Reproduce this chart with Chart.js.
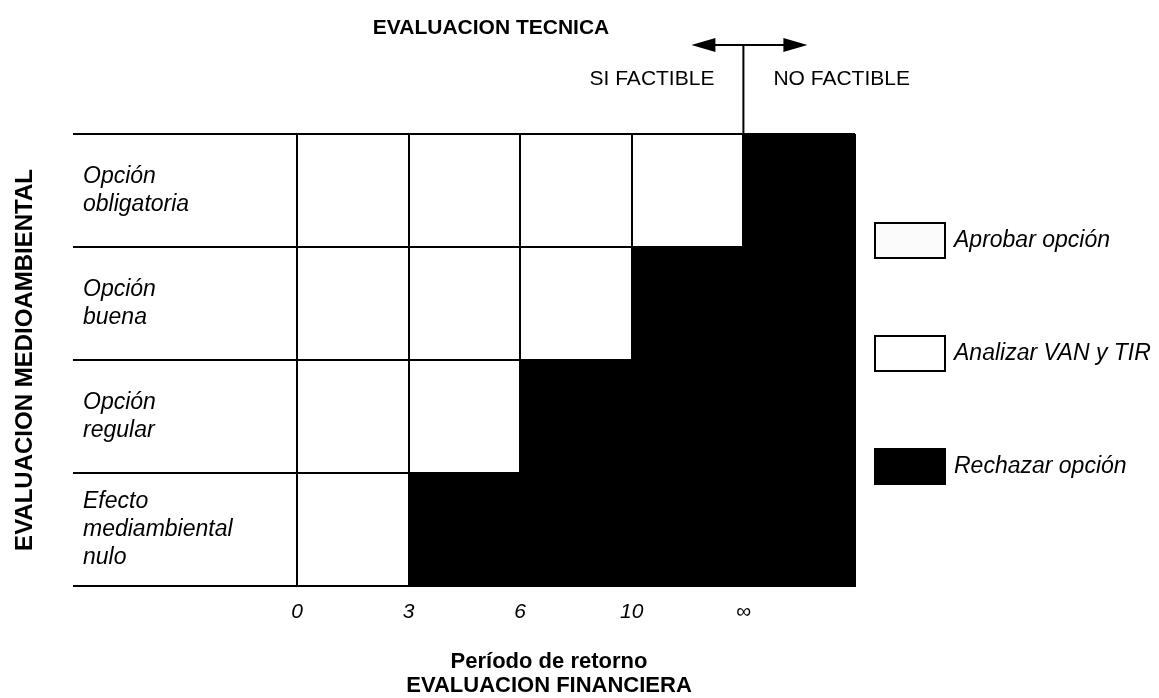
<!DOCTYPE html>
<html lang="es">
<head>
<meta charset="utf-8">
<title>Evaluación de opciones</title>
<script src="https://cdn.jsdelivr.net/npm/chart.js@4.4.1/dist/chart.umd.min.js"></script>
<style>
    html, body { margin: 0; padding: 0; background: #fff; }
    #wrap { width: 1159px; height: 698px; position: relative; }
</style>
</head>
<body>
<div id="wrap"><canvas id="matriz"></canvas></div>
<script>
// filas: evaluación medioambiental (de arriba a abajo)
const filas = [
    ['Opción', 'obligatoria'],
    ['Opción', 'buena'],
    ['Opción', 'regular'],
    ['Efecto', 'mediambiental', 'nulo']
];
// columnas: período de retorno
const periodos = ['0', '3', '6', '10', '∞'];
const numColumnas = 5;

// casillas por fila
const aprobarOpcion = [0, 0, 0, 0];
const analizarVanTir = [4, 3, 2, 1];
const rechazarOpcion = [1, 2, 3, 4];

const FONT = '"Liberation Sans", Arial, Helvetica, sans-serif';
const INK = '#000';

const anotaciones = {
    id: 'anotaciones',
    afterDraw(chart) {
        const { ctx, chartArea, scales: { x } } = chart;
        const xLim = x.getPixelForValue(4);
        ctx.save();
        ctx.fillStyle = INK;
        ctx.strokeStyle = INK;
        ctx.textBaseline = 'middle';

        // evaluación técnica
        ctx.font = 'bold 21px ' + FONT;
        ctx.textAlign = 'center';
        ctx.fillText('EVALUACION TECNICA', 491, 28);

        ctx.font = '21px ' + FONT;
        ctx.textAlign = 'right';
        ctx.fillText('SI FACTIBLE', xLim - 29, 79);
        ctx.textAlign = 'left';
        ctx.fillText('NO FACTIBLE', xLim + 30, 79);

        // flecha doble y separador
        const yA = 45, xL = xLim - 52, xR = xLim + 64;
        ctx.lineWidth = 2;
        ctx.beginPath();
        ctx.moveTo(xL + 10, yA); ctx.lineTo(xR - 10, yA);
        ctx.moveTo(xLim, yA); ctx.lineTo(xLim, chartArea.top);
        ctx.stroke();
        ctx.beginPath();
        ctx.moveTo(xL, yA); ctx.lineTo(xL + 24, yA - 7); ctx.lineTo(xL + 24, yA + 7); ctx.closePath();
        ctx.moveTo(xR, yA); ctx.lineTo(xR - 24, yA - 7); ctx.lineTo(xR - 24, yA + 7); ctx.closePath();
        ctx.fill();

        // evaluación financiera
        ctx.font = 'bold 22px ' + FONT;
        ctx.textAlign = 'center';
        ctx.fillText('Período de retorno', 549, 662);
        ctx.fillText('EVALUACION FINANCIERA', 549, 686);

        // leyenda
        const items = [2, 0, 1].map(i => chart.data.datasets[i]);
        const tops = [223, 336, 449];
        ctx.font = 'italic 23px ' + FONT;
        ctx.textAlign = 'left';
        items.forEach((ds, i) => {
            ctx.fillStyle = ds.backgroundColor;
            ctx.fillRect(875, tops[i], 70, 35);
            ctx.lineWidth = 2;
            ctx.strokeStyle = INK;
            ctx.strokeRect(875, tops[i], 70, 35);
            ctx.fillStyle = INK;
            ctx.fillText(ds.label, 954, tops[i] + 18);
        });
        ctx.restore();
    }
};

const ctx = document.getElementById('matriz').getContext('2d');
new Chart(ctx, {
    type: 'bar',
    data: {
        labels: filas,
        datasets: [
            {
                label: 'Analizar VAN y TIR',
                data: analizarVanTir,
                backgroundColor: '#ffffff',
                borderWidth: 0
            },
            {
                label: 'Rechazar opción',
                data: rechazarOpcion,
                backgroundColor: '#000000',
                borderWidth: 0
            },
            {
                label: 'Aprobar opción',
                data: aprobarOpcion,
                backgroundColor: '#fbfbfb',
                borderWidth: 0
            }
        ]
    },
    options: {
        indexAxis: 'y',
        responsive: true,
        maintainAspectRatio: false,
        animation: false,
        categoryPercentage: 1,
        barPercentage: 1,
        layout: {
            padding: { left: 83, right: 304, top: 134, bottom: 0 }
        },
        plugins: {
            legend: { display: false },
            tooltip: { enabled: false }
        },
        scales: {
            x: {
                type: 'linear',
                stacked: true,
                min: 0,
                max: numColumnas,
                afterFit: (s) => { s.height = 112; },
                grid: {
                    color: INK,
                    lineWidth: 2,
                    drawTicks: false,
                    z: 1
                },
                border: { color: INK, width: 2, z: 1 },
                ticks: {
                    stepSize: 1,
                    autoSkip: false,
                    maxRotation: 0,
                    padding: 14,
                    color: INK,
                    font: { family: FONT, size: 21, style: 'italic', lineHeight: 1.2 },
                    callback: (v) => periodos[v] ?? ''
                }
            },
            y: {
                stacked: true,
                afterFit: (s) => { s.width = 214; },
                grid: {
                    color: INK,
                    lineWidth: 2,
                    drawTicks: true,
                    tickLength: 224,
                    z: 1
                },
                border: { color: INK, width: 2, z: 1 },
                ticks: {
                    crossAlign: 'far',
                    color: INK,
                    font: { family: FONT, size: 23, style: 'italic', lineHeight: 1.22 }
                },
                title: {
                    display: true,
                    text: 'EVALUACION MEDIOAMBIENTAL',
                    color: INK,
                    padding: { top: -72, bottom: 0 },
                    font: { family: FONT, size: 24, weight: 'bold', lineHeight: 1.2 }
                }
            }
        }
    },
    plugins: [anotaciones]
});
</script>
</body>
</html>
